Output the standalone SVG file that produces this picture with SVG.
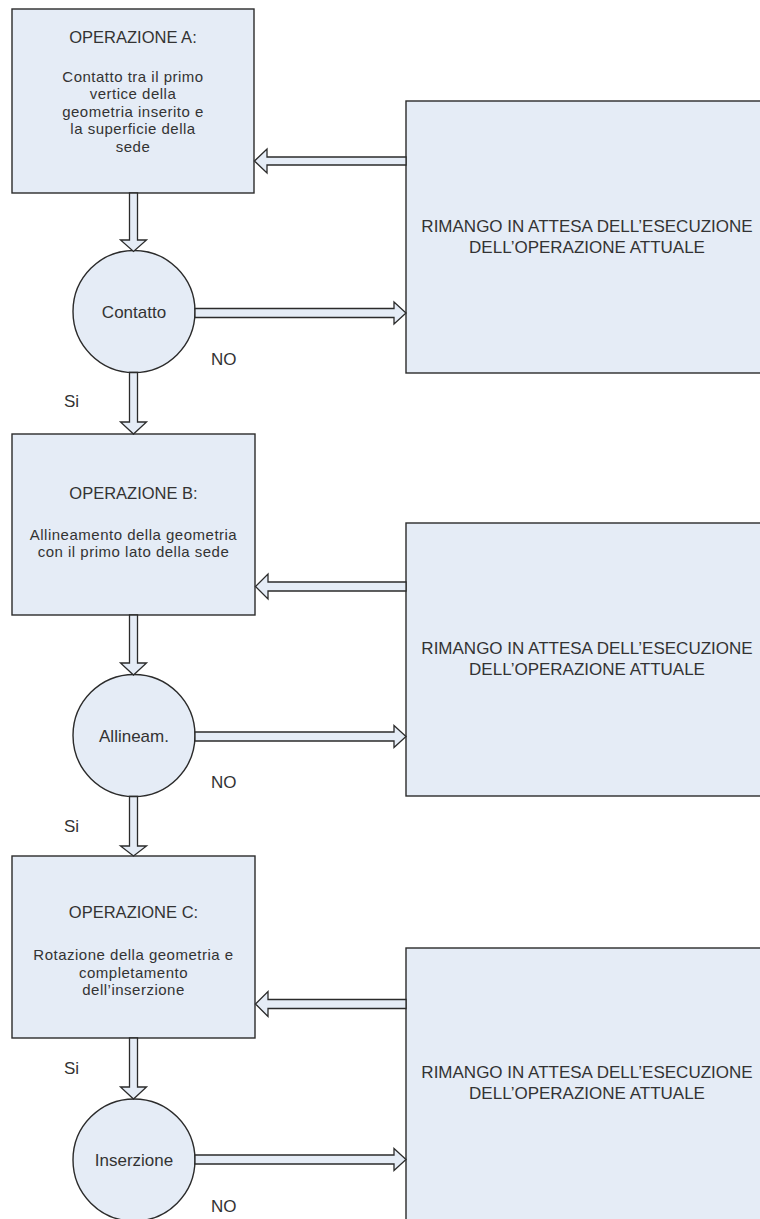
<svg xmlns="http://www.w3.org/2000/svg" width="760" height="1219" viewBox="0 0 760 1219">
<style>
.box{fill:#e5ecf6;stroke:#2b2b2b;stroke-width:1.4}
.arr{fill:#e5ecf6;stroke:#2b2b2b;stroke-width:1.3;stroke-linejoin:miter}
text{font-family:"Liberation Sans",Arial,sans-serif;fill:#333;text-anchor:middle}
.t{font-size:16.5px}
.b{font-size:15px;letter-spacing:0.5px}
.r{font-size:17px}
.c{font-size:17px}
.lbl{font-size:17px;text-anchor:start}
</style>
<rect width="760" height="1219" fill="#fff"/>
<g id="opA">
<rect class="box" x="12" y="9" width="242" height="184"/>
<text class="t" x="133" y="43">OPERAZIONE A:</text>
<text class="b" x="133" y="81.5">Contatto tra il primo</text>
<text class="b" x="133" y="99">vertice della</text>
<text class="b" x="133" y="116.5">geometria inserito e</text>
<text class="b" x="133" y="134">la superficie della</text>
<text class="b" x="133" y="151.5">sede</text>
</g>
<g id="waitA">
<rect class="box" x="406" y="101" width="370" height="272"/>
<text class="r" x="587" y="232">RIMANGO IN ATTESA DELL’ESECUZIONE</text>
<text class="r" x="587" y="253">DELL’OPERAZIONE ATTUALE</text>
</g>
<g id="decA">
<circle class="box" cx="134" cy="311.5" r="61"/>
<text class="c" x="134" y="317.5">Contatto</text>
</g>
<g id="opB">
<rect class="box" x="12" y="434" width="243" height="181"/>
<text class="t" x="133.5" y="499">OPERAZIONE B:</text>
<text class="b" x="133.5" y="539.5">Allineamento della geometria</text>
<text class="b" x="133.5" y="557">con il primo lato della sede</text>
</g>
<g id="waitB">
<rect class="box" x="406" y="523" width="370" height="273"/>
<text class="r" x="587" y="654">RIMANGO IN ATTESA DELL’ESECUZIONE</text>
<text class="r" x="587" y="675">DELL’OPERAZIONE ATTUALE</text>
</g>
<g id="decB">
<circle class="box" cx="134" cy="735.5" r="61"/>
<text class="c" x="134" y="741.5">Allineam.</text>
</g>
<g id="opC">
<rect class="box" x="12" y="856" width="243" height="182"/>
<text class="t" x="133.5" y="918">OPERAZIONE C:</text>
<text class="b" x="133.5" y="960">Rotazione della geometria e</text>
<text class="b" x="133.5" y="977.5">completamento</text>
<text class="b" x="133.5" y="995">dell’inserzione</text>
</g>
<g id="waitC">
<rect class="box" x="406" y="948" width="370" height="290"/>
<text class="r" x="587" y="1078">RIMANGO IN ATTESA DELL’ESECUZIONE</text>
<text class="r" x="587" y="1099">DELL’OPERAZIONE ATTUALE</text>
</g>
<g id="decC">
<circle class="box" cx="134" cy="1160" r="61"/>
<text class="c" x="134" y="1166">Inserzione</text>
</g>
<g id="connectors">
<polygon class="arr" points="129.5,193 137.5,193 137.5,240 146.5,240 133.5,251.5 120.5,240 129.5,240"/>
<polygon class="arr" points="129.5,372.5 137.5,372.5 137.5,422 146.5,422 133.5,434 120.5,422 129.5,422"/>
<polygon class="arr" points="129.5,615 137.5,615 137.5,663 146.5,663 133.5,675 120.5,663 129.5,663"/>
<polygon class="arr" points="129.5,796.5 137.5,796.5 137.5,846 146.5,846 133.5,856 120.5,846 129.5,846"/>
<polygon class="arr" points="129.5,1038 137.5,1038 137.5,1087 146.5,1087 133.5,1099 120.5,1087 129.5,1087"/>
<polygon class="arr" points="195,308.5 394,308.5 394,302 406,313 394,324 394,317.5 195,317.5"/>
<polygon class="arr" points="195,732 394,732 394,725.5 406,736.5 394,747.5 394,741 195,741"/>
<polygon class="arr" points="195,1155 394,1155 394,1148.5 406,1159.5 394,1170.5 394,1164 195,1164"/>
<polygon class="arr" points="406,157 267,157 267,149 254.5,161 267,173 267,165 406,165"/>
<polygon class="arr" points="406,582 268,582 268,574 255.5,586.5 268,599 268,591 406,591"/>
<polygon class="arr" points="406,999.5 268,999.5 268,991.5 255.5,1004 268,1016.5 268,1008.5 406,1008.5"/>
</g>
<g id="labels">
<text class="lbl" x="211" y="365">NO</text>
<text class="lbl" x="64" y="407">Si</text>
<text class="lbl" x="211" y="788">NO</text>
<text class="lbl" x="64" y="832">Si</text>
<text class="lbl" x="64" y="1074">Si</text>
<text class="lbl" x="211" y="1212">NO</text>
</g>
</svg>
